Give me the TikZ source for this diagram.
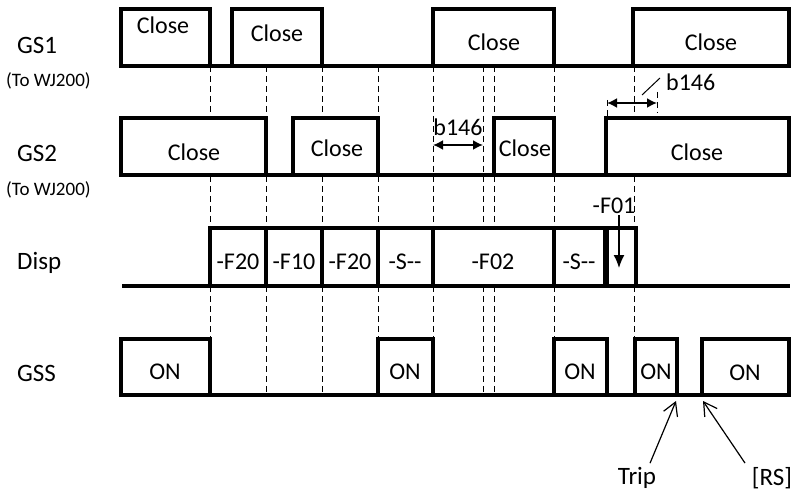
\documentclass[tikz,border=0pt]{standalone}
\usepackage{fontspec}
\setmainfont{Carlito}
\usetikzlibrary{arrows.meta}
\tikzset{wave/.style={draw,line width=3.5pt,fill=white,line join=miter},
 lowline/.style={line width=3.5pt},
 vl/.style={dash pattern=on 6pt off 4pt,line width=1pt},
 sig/.style={font=\fontsize{25}{28}\selectfont,inner sep=0pt},
 sub/.style={font=\fontsize{19}{22}\selectfont,inner sep=0pt},
 txt/.style={font=\fontsize{24}{27}\selectfont,inner sep=0pt},
 dimarr/.style={{Latex[length=10pt,width=10pt]}-{Latex[length=10pt,width=10pt]},line width=1.8pt},
 downarr/.style={-{Latex[length=13pt,width=11pt]},line width=1.5pt},
 tip/.style={-{Straight Barb[length=13pt,width=15pt,line width=1.2pt]},line width=1.2pt}}

\begin{document}
\begin{tikzpicture}[x=1pt,y=-1pt]
\useasboundingbox (0,0) rectangle (795,497);
\node[sig,anchor=west] (gs1) at (17,45) {GS1};
\node[sub,anchor=west] (wj1) at (6,81) {(To WJ200)};
\node[sig,anchor=west] (gs2) at (17,153) {GS2};
\node[sub,anchor=west] (wj2) at (6,190) {(To WJ200)};
\node[sig,anchor=west] (disp) at (17,263) {Disp};
\node[sig,anchor=west] (gss) at (17,373) {GSS};
\draw[vl] (210,66) -- (210,339);
\draw[vl] (266,66) -- (266,393);
\draw[vl] (322,66) -- (322,393);
\draw[vl] (378,66) -- (378,339);
\draw[vl] (433,66) -- (433,339);
\draw[vl] (483,66) -- (483,393);
\draw[vl] (494,66) -- (494,393);
\draw[vl] (554,66) -- (554,339);
\draw[vl] (634,66) -- (634,339);
\draw[vl] (607,100) -- (607,118);
\draw[vl] (657,92) -- (657,113);
\draw[lowline] (120,66) -- (789,66);
\draw[wave] (121,66) rectangle (210,9);
\draw[wave] (232,66) rectangle (322,9);
\draw[wave] (433,66) rectangle (554,9);
\draw[wave] (633,66) rectangle (789,9);
\node[txt] (c1a) at (163,25) {Close};
\node[txt] (c1b) at (277,33) {Close};
\node[txt] (c1c) at (494,42) {Close};
\node[txt] (c1d) at (711,42) {Close};
\draw[lowline] (120,175) -- (789,175);
\draw[wave] (121,175) rectangle (266,118);
\draw[wave] (293,175) rectangle (378,118);
\draw[wave] (494,175) rectangle (554,118);
\draw[wave] (606,175) rectangle (789,118);
\node[txt] (c2a) at (194,152) {Close};
\node[txt] (c2b) at (337,148) {Close};
\node[txt] (c2c) at (525,148) {Close};
\node[txt] (c2d) at (697,152) {Close};
\draw[lowline] (122,286) -- (790,286);
\draw[wave] (210,286) rectangle (266,228);
\draw[wave] (266,286) rectangle (322,228);
\draw[wave] (322,286) rectangle (378,228);
\draw[wave] (378,286) rectangle (433,228);
\draw[wave] (433,286) rectangle (554,228);
\draw[wave] (554,286) rectangle (604.5,228);
\draw[wave] (607,286) rectangle (636,228);
\node[txt] (d1) at (238,262) {-F20};
\node[txt] (d2) at (294,262) {-F10};
\node[txt] (d3) at (350,262) {-F20};
\node[txt] (d4) at (405,262) {-S-{}-};
\node[txt] (d5) at (493,262) {-F02};
\node[txt] (d6) at (579,262) {-S-{}-};
\draw[lowline] (120,395) -- (789,395);
\draw[wave] (121,395) rectangle (210,339);
\draw[wave] (378,395) rectangle (433,339);
\draw[wave] (554,395) rectangle (607,339);
\draw[wave] (635,395) rectangle (677,339);
\draw[wave] (702,395) rectangle (789,339);
\node[txt] (on1) at (165,372) {ON};
\node[txt] (on2) at (405,372) {ON};
\node[txt] (on3) at (580,372) {ON};
\node[txt] (on4) at (656,372) {ON};
\node[txt] (on5) at (745,373) {ON};
\coordinate (dimAl) at (433,145);
\coordinate (dimAr) at (483,145);
\draw[dimarr] (dimAl) -- (dimAr);
\node[txt] (b146a) at (458,127) {b146};
\coordinate (dimBl) at (607,103);
\coordinate (dimBr) at (657,103);
\draw[dimarr] (dimBl) -- (dimBr);
\node[txt,anchor=west] (b146b) at (666,82) {b146};
\coordinate (lead) at (642,95);
\draw[line width=1pt] (lead) -- ([xshift=-6pt,yshift=4pt]b146b.west);
\node[txt] (f01) at (614,206) {-F01};
\coordinate (f01tip) at (619,268);
\draw[downarr] ([xshift=5pt,yshift=-1pt]f01.south) -- (f01tip);
\node[sig] (trip) at (637,478) {Trip};
\coordinate (tripend) at (676,401);
\draw[tip] ([xshift=13pt,yshift=4pt]trip.north) -- (tripend);
\node[sig] (rs) at (772,478) {[RS]};
\coordinate (rsend) at (703,401);
\draw[tip] ([xshift=-27pt,yshift=4pt]rs.north) -- (rsend);
\end{tikzpicture}
\end{document}
